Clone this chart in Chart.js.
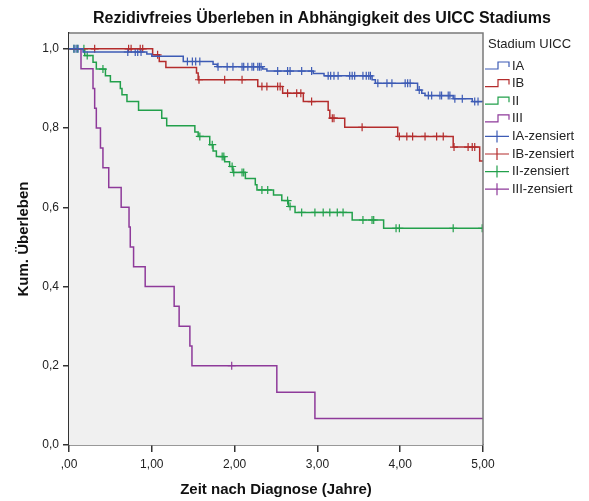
<!DOCTYPE html>
<html>
<head>
<meta charset="utf-8">
<title>Rezidivfreies Überleben</title>
<script src="https://cdn.jsdelivr.net/npm/chart.js@4.4.0/dist/chart.umd.min.js"></script>
<style>
  html, body { margin: 0; padding: 0; background: #ffffff; }
</style>
</head>
<body>
<canvas id="chart" width="589" height="501"></canvas>
<script>
'use strict';

// ------------------------------- Data ------------------------------//
const chartTitle = 'Rezidivfreies Überleben in Abhängigkeit des UICC Stadiums';
const xTitle = 'Zeit nach Diagnose (Jahre)';
const yTitle = 'Kum. Überleben';
const legendTitle = 'Stadium UICC';

const groupNames = ['IA', 'IB', 'II', 'III'];
const groupColors = ['#3d5bb5', '#b42c2c', '#22a04b', '#8e3a9a'];

const xTickValues = [0, 1, 2, 3, 4, 5];
const xTickLabels = [',00', '1,00', '2,00', '3,00', '4,00', '5,00'];
const yTickValues = [0, 0.2, 0.4, 0.6, 0.8, 1.0];
const yTickLabels = ['0,0', '0,2', '0,4', '0,6', '0,8', '1,0'];

const followUpEnd = 5.0;

// event times (years) and survival right after each event
const timesIA = [0.17, 0.94, 1.00, 1.38, 1.74, 1.79, 2.34, 2.39, 2.95, 3.08, 3.66, 3.70, 4.21, 4.26, 4.30, 4.64, 4.87];
const survIA  = [0.992, 0.987, 0.981, 0.968, 0.961, 0.955, 0.949, 0.944, 0.938, 0.932, 0.922, 0.913, 0.896, 0.888, 0.882, 0.874, 0.867];
const censorIA = [0.06, 0.085, 0.11, 0.71, 0.80, 0.83, 0.87, 1.43, 1.49, 1.53, 1.58, 1.80, 1.91, 1.98, 2.09, 2.11,
  2.16, 2.21, 2.23, 2.28, 2.30, 2.32, 2.52, 2.64, 2.67, 2.81, 2.93, 3.13, 3.16, 3.20, 3.25, 3.39, 3.42, 3.45,
  3.55, 3.59, 3.62, 3.64, 3.73, 3.84, 3.90, 4.06, 4.09, 4.12, 4.23, 4.34, 4.38, 4.48, 4.50, 4.58, 4.60, 4.66,
  4.75, 4.90, 4.94];

const timesIB = [1.01, 1.09, 1.17, 1.54, 1.56, 2.28, 2.58, 2.83, 3.13, 3.15, 3.33, 3.97, 4.64, 4.96];
const survIB  = [0.985, 0.968, 0.953, 0.939, 0.922, 0.905, 0.888, 0.867, 0.845, 0.825, 0.802, 0.779, 0.752, 0.717];
const censorIB = [0.31, 0.72, 0.75, 0.86, 0.89, 1.07, 1.57, 1.88, 2.09, 2.33, 2.39, 2.52, 2.55, 2.64, 2.75,
  2.80, 2.93, 3.18, 3.20, 3.54, 3.99, 4.08, 4.15, 4.30, 4.44, 4.52, 4.65, 4.82, 4.87, 4.90];

const timesII = [0.19, 0.29, 0.33, 0.44, 0.50, 0.62, 0.64, 0.70, 0.84, 1.12, 1.18, 1.52, 1.56, 1.70, 1.74,
  1.78, 1.88, 1.94, 1.98, 2.13, 2.25, 2.27, 2.47, 2.57, 2.65, 2.73, 3.42, 3.80];
const survII  = [0.983, 0.966, 0.949, 0.932, 0.917, 0.900, 0.884, 0.867, 0.845, 0.825, 0.806, 0.790, 0.779,
  0.758, 0.742, 0.728, 0.715, 0.703, 0.688, 0.673, 0.657, 0.644, 0.631, 0.617, 0.602, 0.587, 0.568, 0.547];
const censorII = [0.06, 0.10, 0.18, 0.22, 0.41, 1.58, 1.73, 1.85, 1.87, 1.97, 1.99, 2.09, 2.11, 2.33, 2.40,
  2.64, 2.67, 2.81, 2.97, 3.07, 3.15, 3.24, 3.31, 3.55, 3.66, 3.68, 3.95, 3.99, 4.64, 4.99];

const timesIII = [0.145, 0.29, 0.31, 0.33, 0.38, 0.41, 0.48, 0.63, 0.725, 0.74, 0.78, 0.92, 1.27, 1.33, 1.46, 1.485, 2.51, 2.97];
const survIII  = [0.95, 0.90, 0.85, 0.80, 0.75, 0.70, 0.65, 0.60, 0.55, 0.50, 0.45, 0.40, 0.35, 0.30, 0.25, 0.20, 0.1333, 0.0667];
const censorIII = [1.965];

// ------------------------------- Helpers ------------------------------//
function stepPoints(times, surv) {
  const pts = [{x: 0, y: 1}];
  for (let i = 0; i < times.length; i++) {
    pts.push({x: times[i], y: surv[i]});
  }
  pts.push({x: followUpEnd, y: surv[surv.length - 1]});
  return pts;
}

function survivalAt(times, surv, t) {
  let s = 1;
  for (let i = 0; i < times.length; i++) {
    if (times[i] <= t) s = surv[i];
  }
  return s;
}

function censorPoints(times, surv, censored) {
  return censored.map(t => ({x: t, y: survivalAt(times, surv, t)}));
}

const groupTimes = [timesIA, timesIB, timesII, timesIII];
const groupSurv = [survIA, survIB, survII, survIII];
const groupCensor = [censorIA, censorIB, censorII, censorIII];

const datasets = [];
for (let g = 0; g < groupNames.length; g++) {
  datasets.push({
    label: groupNames[g],
    data: stepPoints(groupTimes[g], groupSurv[g]),
    stepped: true,
    borderColor: groupColors[g],
    borderWidth: 1.5,
    pointRadius: 0,
    fill: false
  });
}
for (let g = 0; g < groupNames.length; g++) {
  datasets.push({
    label: groupNames[g] + '-zensiert',
    data: censorPoints(groupTimes[g], groupSurv[g], groupCensor[g]),
    showLine: false,
    pointStyle: 'cross',
    pointRadius: 4,
    pointBorderWidth: 1.2,
    borderColor: groupColors[g],
    backgroundColor: groupColors[g]
  });
}

// ------------------------------- Plugin: frame, titles, legend ------------------------------//
const font = '"Liberation Sans", Arial, sans-serif';

const frameAndText = {
  id: 'frameAndText',
  beforeDatasetsDraw(chart) {
    const {ctx, chartArea: a} = chart;
    ctx.save();
    ctx.fillStyle = '#f0f0f0';
    ctx.fillRect(a.left, a.top, a.right - a.left, a.bottom - a.top);
    ctx.restore();
  },
  afterDraw(chart) {
    const {ctx, chartArea: a} = chart;
    ctx.save();
    // top and right border of the plot frame
    ctx.strokeStyle = '#7a7a7a';
    ctx.lineWidth = 1.5;
    ctx.beginPath();
    ctx.moveTo(a.left, a.top);
    ctx.lineTo(a.right, a.top);
    ctx.lineTo(a.right, a.bottom);
    ctx.stroke();

    ctx.fillStyle = '#111';
    ctx.textAlign = 'center';
    ctx.textBaseline = 'middle';
    ctx.font = 'bold 16px ' + font;
    ctx.fillText(chartTitle, 322, 19);

    ctx.font = 'bold 15px ' + font;
    ctx.fillText(xTitle, (a.left + a.right) / 2, 490);

    ctx.translate(24, (a.top + a.bottom) / 2);
    ctx.rotate(-Math.PI / 2);
    ctx.fillText(yTitle, 0, 0);
    ctx.restore();

    // legend
    ctx.save();
    ctx.font = '13px ' + font;
    ctx.fillStyle = '#222';
    ctx.textAlign = 'left';
    ctx.textBaseline = 'middle';
    ctx.fillText(legendTitle, 488, 44);
    const x0 = 485;
    const rowGap = 17.6;
    for (let i = 0; i < groupNames.length * 2; i++) {
      const g = i % groupNames.length;
      const y = 65 + i * rowGap;
      ctx.strokeStyle = groupColors[g];
      ctx.lineWidth = 1.2;
      ctx.beginPath();
      if (i < groupNames.length) {
        ctx.moveTo(x0, y + 4);
        ctx.lineTo(x0 + 13, y + 4);
        ctx.lineTo(x0 + 13, y - 3);
        ctx.lineTo(x0 + 24, y - 3);
        ctx.lineTo(x0 + 24, y + 2);
      } else {
        ctx.moveTo(x0, y + 1);
        ctx.lineTo(x0 + 24, y + 1);
        ctx.moveTo(x0 + 12, y - 5);
        ctx.lineTo(x0 + 12, y + 7);
      }
      ctx.stroke();
      ctx.fillStyle = '#222';
      const label = i < groupNames.length ? groupNames[g] : groupNames[g] + '-zensiert';
      ctx.fillText(label, x0 + 27, y + 1);
    }
    ctx.restore();
  }
};

// ------------------------------- Chart ------------------------------//
const ctx = document.getElementById('chart').getContext('2d');
const survivalChart = new Chart(ctx, {
  type: 'line',
  data: { datasets: datasets },
  options: {
    responsive: false,
    animation: false,
    events: [],
    layout: { padding: { left: 0, top: 33, right: 106, bottom: 0 } },
    plugins: {
      legend: { display: false },
      title: { display: false },
      tooltip: { enabled: false }
    },
    scales: {
      x: {
        type: 'linear',
        min: 0,
        max: 5,
        afterFit: s => { s.height = 56; },
        afterBuildTicks: s => { s.ticks = xTickValues.map(v => ({value: v})); },
        grid: { drawOnChartArea: false, tickLength: 7, color: '#333', lineWidth: 1.5 },
        border: { display: true, color: '#333', width: 1.5 },
        ticks: {
          callback: (v, i) => xTickLabels[i],
          color: '#222',
          font: { family: font, size: 12 },
          padding: 5,
          maxRotation: 0
        }
      },
      y: {
        type: 'linear',
        min: 0,
        max: 1.04,
        afterFit: s => { s.width = 69; },
        afterBuildTicks: s => { s.ticks = yTickValues.map(v => ({value: v})); },
        grid: { drawOnChartArea: false, tickLength: 6, color: '#333', lineWidth: 1.5 },
        border: { display: true, color: '#333', width: 1.5 },
        ticks: {
          callback: (v, i) => yTickLabels[i],
          color: '#222',
          font: { family: font, size: 12 },
          padding: 4
        }
      }
    }
  },
  plugins: [frameAndText]
});
</script>
</body>
</html>
